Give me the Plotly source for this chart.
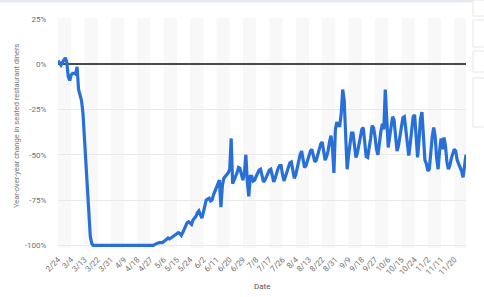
import pandas as pd
import plotly.graph_objects as go

# Daily year-over-year change (%) in seated diners, 2020
FEB = [2, 0.5, -0.5, 1, 2.5, 3.5]
MAR = [1, -7, -9, -6, -5, -5, -5.5, -1.5, -14, -17, -20, -27, -42, -57, -73, -88, -95, -99,
       -100, -100, -100, -100, -100, -100, -100, -100, -100, -100, -100, -100, -100]
APR = [-100] * 29 + [-99.5]
MAY = [-99, -99, -98.5, -98.5, -98.5, -98, -97.5, -97, -96, -96.5, -96, -95.5, -95, -94, -93.5,
       -93, -93.5, -94.5, -93, -91, -89.5, -87.5, -87, -88, -88.5, -86, -85, -84, -82, -81, -83]
JUN = [-85, -82, -78, -75, -74.5, -74, -75.5, -75, -72, -70, -67, -65, -64, -79, -67, -63, -62,
       -61, -60, -58, -41, -66, -64, -62.5, -60, -57, -57.5, -61, -64, -60]
JUL = [-50, -65, -73, -62, -62, -64.5, -64, -62, -60, -58.5, -58, -62, -65, -64, -62, -60, -58.5,
       -58, -62, -65, -63, -60, -57.5, -56, -56, -61, -64.5, -62, -59, -56, -54.5]
AUG = [-54, -58, -63, -61, -57, -53, -50, -48, -52, -57, -56, -53, -50, -48, -47, -50, -54, -53,
       -50, -47, -44, -43, -47, -53, -51, -48, -43, -39.5, -46, -60, -36]
SEP = [-32, -34, -34, -27, -14, -20, -45, -58, -50, -43, -38, -38, -45, -51.5, -49, -45, -40,
       -36, -35, -42, -51, -51.5, -47, -41, -34, -35, -40, -47, -50, -43]
OCT = [-37, -33, -36, -14, -34, -46, -40, -33, -29, -31, -40, -48, -45, -39, -33, -29.5, -29,
       -36, -46, -50.5, -44, -36, -29, -28, -40, -51.5, -42, -30, -26.5, -38, -53]
NOV = [-55, -59, -58, -48, -40, -35, -40, -52, -58, -48, -41, -47, -40.5, -45, -54, -58, -56,
       -52, -49, -47, -48, -53, -55, -57, -59, -62.5, -57, -50]

START_DATE = "2020-02-24"
TICK_LABELS = ["2/24", "3/4", "3/13", "3/22", "3/31", "4/9", "4/18", "4/27", "5/6", "5/15",
               "5/24", "6/2", "6/11", "6/20", "6/29", "7/8", "7/17", "7/26", "8/4", "8/13",
               "8/22", "8/31", "9/9", "9/18", "9/27", "10/6", "10/15", "10/24", "11/2",
               "11/11", "11/20"]
Y_TICKS = [25, 0, -25, -50, -75, -100]
Y_LABELS = ["25%", "0%", "-25%", "-50%", "-75%", "-100%"]

values = FEB + MAR + APR + MAY + JUN + JUL + AUG + SEP + OCT + NOV
dates = pd.date_range(START_DATE, periods=len(values), freq="D")
tick_dates = [pd.to_datetime("2020/" + t, format="%Y/%m/%d") for t in TICK_LABELS]

fig = go.Figure()
fig.add_trace(go.Scatter(
    x=dates, y=values, mode="lines",
    line=dict(color="#2870d8", width=3.2),
    hoverinfo="skip", showlegend=False,
))

shapes = []
for i in range(0, len(tick_dates), 2):
    x0 = tick_dates[i]
    x1 = tick_dates[i + 1] if i + 1 < len(tick_dates) else dates[-1]
    shapes.append(dict(type="rect", xref="x", yref="paper", x0=x0, x1=x1, y0=0, y1=1,
                       fillcolor="#f8f8f8", line=dict(width=0), layer="below"))

# page decoration (top border and side buttons)
shapes.append(dict(type="line", xref="paper", yref="paper", x0=-0.15, x1=1.1,
                   y0=1.074, y1=1.074, line=dict(color="#e4e9ef", width=3)))
for (ya, yb) in [(0, 16), (20, 47), (51, 72), (78, 127)]:
    shapes.append(dict(type="rect", xref="paper", yref="paper",
                       x0=(473 - 58) / 408, x1=(492 - 58) / 408,
                       y0=(248 - yb) / 230, y1=(248 - ya) / 230,
                       fillcolor="white", line=dict(color="#e6e6e6", width=1)))

fig.update_layout(
    width=484, height=297,
    margin=dict(l=58, r=18, t=18, b=49),
    paper_bgcolor="white", plot_bgcolor="white",
    font=dict(family="Roboto, Arial, sans-serif", color="#666666", size=8),
    shapes=shapes,
    xaxis=dict(
        range=[dates[0], dates[-1]],
        tickvals=tick_dates, ticktext=TICK_LABELS, tickangle=-45,
        tickfont=dict(size=8, color="#707070"),
        showgrid=False, zeroline=False, showline=False,
        ticks="outside", ticklen=3, tickcolor="rgba(0,0,0,0)",
    ),
    yaxis=dict(
        range=[-101.5, 25.5],
        tickvals=Y_TICKS, ticktext=Y_LABELS,
        tickfont=dict(size=8, color="#707070"),
        showgrid=True, gridcolor="#e9e9e9", gridwidth=1,
        zeroline=True, zerolinecolor="#4a4a4a", zerolinewidth=1.5,
        showline=False,
        ticks="outside", ticklen=9, tickcolor="rgba(0,0,0,0)",
    ),
    annotations=[
        dict(text="Year-over-year change in seated restaurant diners", xref="paper", yref="paper",
             x=(16 - 58) / 408, y=0.53, xanchor="center", yanchor="middle", textangle=-90,
             showarrow=False, font=dict(size=7.5, color="#7a7a7a")),
        dict(text="Date", xref="paper", yref="paper", x=(262 - 58) / 408, y=(248 - 286) / 230,
             xanchor="center", yanchor="middle", showarrow=False,
             font=dict(size=8, color="#555555")),
    ],
)

fig.write_html("out.html")
